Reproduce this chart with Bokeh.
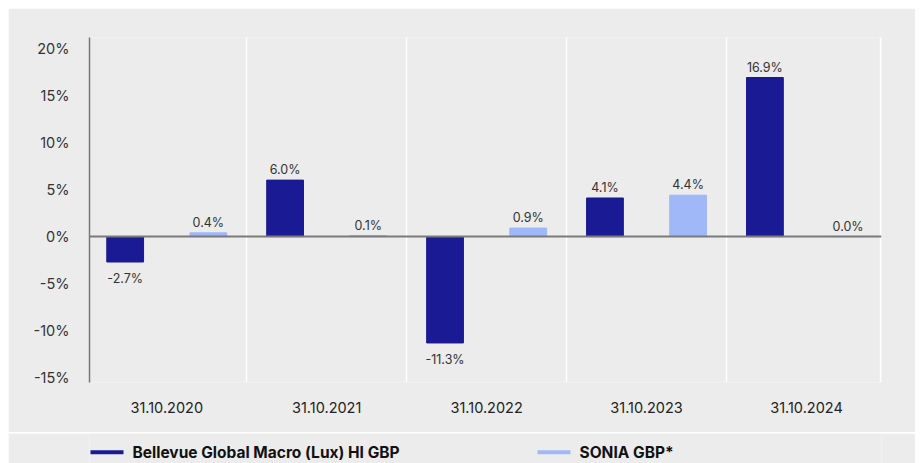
from bokeh.plotting import figure
from bokeh.models import Range1d, FixedTicker, Span, ColumnDataSource
from bokeh.layouts import column
from bokeh.core.properties import value
from bokeh.embed import file_html
from bokeh.resources import INLINE

categories = ["31.10.2020", "31.10.2021", "31.10.2022", "31.10.2023", "31.10.2024"]
fund = [-2.7, 6.0, -11.3, 4.1, 16.9]
sonia = [0.4, 0.1, 0.9, 4.4, 0.0]
series_names = ["Bellevue Global Macro (Lux) HI GBP", "SONIA GBP*"]
y_ticks = [-15, -10, -5, 0, 5, 10, 15, 20]

DARK = "#1a1a94"
LIGHT = "#a0b7f8"
BG = "#ececec"
FONT = "Inter"

xs = list(range(len(categories)))

p = figure(width=907, height=424, output_backend="svg", toolbar_location=None,
           x_range=Range1d(-0.483, 4.469), y_range=Range1d(-15.5, 21.15),
           min_border_left=81, min_border_right=34, min_border_top=29, min_border_bottom=50)
p.background_fill_color = BG
p.border_fill_color = BG
p.outline_line_color = None

src_f = ColumnDataSource(dict(x=[x - 0.26 for x in xs], top=fund,
                              lab=[f"{v:.1f}%" for v in fund]))
src_s = ColumnDataSource(dict(x=[x + 0.26 for x in xs], top=sonia,
                              lab=[f"{v:.1f}%" for v in sonia]))
p.vbar(x="x", top="top", bottom=0, width=0.23, color=DARK, source=src_f)
p.vbar(x="x", top="top", bottom=0, width=0.23, color=LIGHT, source=src_s)

# value labels
for src, vals in ((src_f, fund), (src_s, sonia)):
    pos = [i for i, v in enumerate(vals) if v >= 0]
    neg = [i for i, v in enumerate(vals) if v < 0]
    d = src.data
    if pos:
        p.text(x=[d["x"][i] for i in pos], y=[d["top"][i] for i in pos],
               text=[d["lab"][i] for i in pos], text_align="center",
               text_baseline="bottom", y_offset=-3, text_font=value(FONT),
               text_font_size="12.5px", text_color="#333333")
    if neg:
        p.text(x=[d["x"][i] for i in neg], y=[d["top"][i] for i in neg],
               text=[d["lab"][i] for i in neg], text_align="center",
               text_baseline="top", y_offset=9, text_font=value(FONT),
               text_font_size="12.5px", text_color="#333333")

p.add_layout(Span(location=0, dimension="width", line_color="#7a7a7a", line_width=2))

# grid
p.ygrid.grid_line_color = None
p.xgrid.ticker = FixedTicker(ticks=[0.5, 1.5, 2.5, 3.5, 4.462])
p.xgrid.grid_line_color = "white"
p.xgrid.grid_line_width = 1.5

# axes
p.xaxis.ticker = FixedTicker(ticks=xs)
p.xaxis.major_label_overrides = {i: c for i, c in enumerate(categories)}
p.xaxis.axis_line_color = None
p.xaxis.major_tick_line_color = None
p.xaxis.minor_tick_line_color = None
p.xaxis.major_label_standoff = 13
p.xaxis.major_label_text_font = FONT
p.xaxis.major_label_text_font_size = "14.5px"
p.xaxis.major_label_text_color = "#222222"

p.yaxis.ticker = FixedTicker(ticks=y_ticks)
p.yaxis.major_label_overrides = {t: f"{t}%" for t in y_ticks}
p.yaxis.axis_line_color = "#777777"
p.yaxis.axis_line_width = 1.5
p.yaxis.major_tick_line_color = None
p.yaxis.minor_tick_line_color = None
p.yaxis.major_label_standoff = 14
p.yaxis.major_label_text_font = FONT
p.yaxis.major_label_text_font_size = "14.5px"
p.yaxis.major_label_text_color = "#333333"

# legend strip (frame aligned with the main plot's frame: data x == figure pixel x)
lg = figure(width=907, height=30, output_backend="svg", toolbar_location=None,
            x_range=Range1d(81, 873), y_range=Range1d(0, 30),
            min_border_left=81, min_border_right=34,
            min_border_top=0, min_border_bottom=0)
lg.background_fill_color = BG
lg.border_fill_color = BG
lg.outline_line_color = None
lg.axis.visible = False
lg.grid.visible = False
leg_x = [82, 529]
for sx, name, col in zip(leg_x, series_names, [DARK, LIGHT]):
    lg.segment(x0=[sx], y0=[11.3], x1=[sx + 33], y1=[11.3], line_color=col, line_width=4)
    lg.text(x=[sx + 42], y=[11.3], text=[name], text_baseline="middle", text_align="left",
            text_font=value(FONT), text_font_size="15.5px", text_font_style="bold",
            text_color="#111111")

layout = column(p, lg, spacing=1, margin=(8, 0, 0, 8))
open("out.html", "w").write(file_html(layout, INLINE))
